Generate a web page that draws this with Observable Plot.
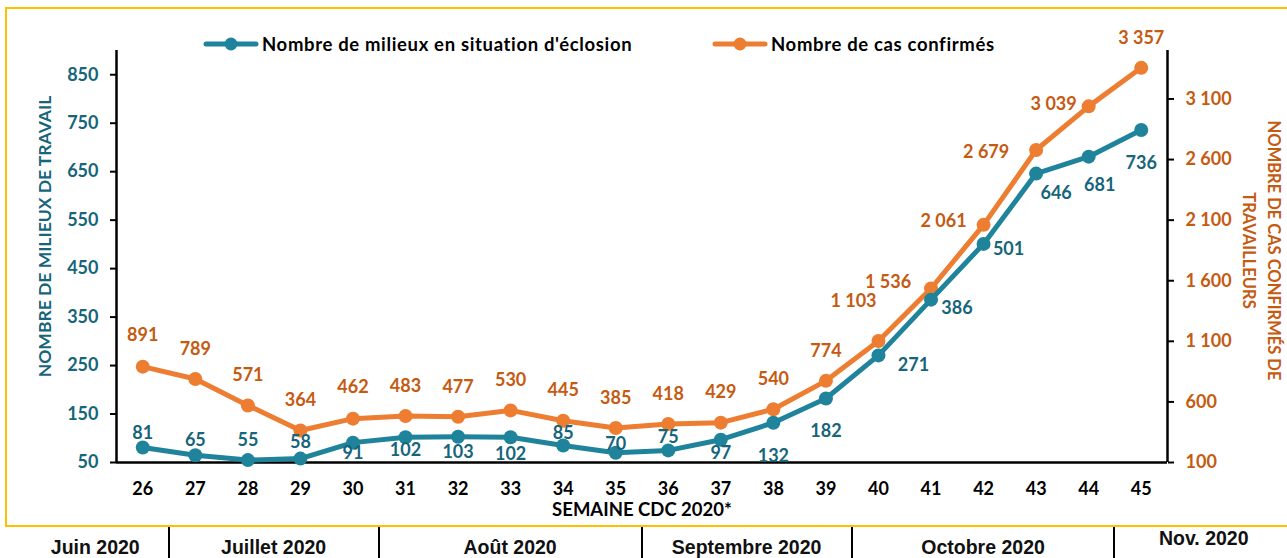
<!DOCTYPE html>
<html><head><meta charset="utf-8">
<script src="https://cdn.jsdelivr.net/npm/d3@7"></script>
<script src="https://cdn.jsdelivr.net/npm/@observablehq/plot@0.6"></script>
<style>
html,body{margin:0;padding:0;background:#fff;}
body{width:1287px;height:558px;overflow:hidden;position:relative;font-family:Lato,sans-serif;}
#chart{position:absolute;left:0;top:0;}
#frame{position:absolute;left:5px;top:7px;width:1300px;height:520px;border:2px solid #FFC000;box-sizing:border-box;pointer-events:none;}
#legend{position:absolute;top:33px;left:0;height:22px;width:1287px;}
.lg{position:absolute;top:0;display:flex;align-items:center;height:22px;font:bold 18.5px Lato,sans-serif;letter-spacing:0.65px;color:#000;white-space:nowrap;}
.lg svg{margin-right:3px;}
#months{position:absolute;top:527px;left:0;width:1287px;height:31px;}
.mc{position:absolute;top:0;height:31px;box-sizing:border-box;text-align:center;font:bold 19.5px "Liberation Sans",Arial,sans-serif;color:#111;line-height:40px;}
.mc.sep{border-left:2px solid #000;}
.mc.last{line-height:22px;}
</style>
</head><body>
<div id="chart"></div>
<div id="frame"></div>
<div id="legend"></div>
<div id="months"></div>
<script>
// ---- data ----
const weeks = [26,27,28,29,30,31,32,33,34,35,36,37,38,39,40,41,42,43,44,45];
const eclosions = [81,65,55,58,91,102,103,102,85,70,75,97,132,182,271,386,501,646,681,736];
const casConfirmes = [891,789,571,364,462,483,477,530,445,385,418,429,540,774,1103,1536,2061,2679,3039,3357];
const leftTicks = [50,150,250,350,450,550,650,750,850];
const rightTicks = [100,600,1100,1600,2100,2600,3100];
const months = ["Juin 2020","Juillet 2020","Août 2020","Septembre 2020","Octobre 2020","Nov. 2020"];
const monthFirstWeek = [26,27,31,36,40,45];
const legendLabels = ["Nombre de milieux en situation d'éclosion","Nombre de cas confirmés"];
const xTitle = "SEMAINE CDC 2020*";
const leftTitle = "NOMBRE DE MILIEUX DE TRAVAIL";
const rightTitle = ["NOMBRE DE CAS CONFIRMÉS DE","TRAVAILLEURS"];

// ---- label placement (pixel offsets, style only) ----
const tealOffsets = [[0,-14],[0,-15],[0,-20],[0,-16],[0,11],[0,13],[0,15],[0,17],[0,-12],[0,-9],[0,-13],[0,14],[0,33],[0,33],[35,10],[26,9],[25,5],[20,20],[11,29],[0,33]];
const orangeOffsets = [[0,-31],[0,-30],[0,-30],[0,-30],[0,-31],[0,-30],[0,-30],[0,-30],[0,-30],[0,-30],[0,-30],[0,-30],[0,-30],[0,-30],[-25,-40],[-43,-6],[-40,-4],[-50,2],[-35,-2],[0,-30]];

const teal = "#1F849B", tealText = "#17657A";
const orange = "#ED7D31", orangeText = "#C55A11";

const leftDomain = [50, 900], rightDomain = [100, 3500];
const toLeft = v => leftDomain[0] + (v - rightDomain[0]) * (leftDomain[1] - leftDomain[0]) / (rightDomain[1] - rightDomain[0]);
const fromLeft = v => rightDomain[0] + (v - leftDomain[0]) * (rightDomain[1] - rightDomain[0]) / (leftDomain[1] - leftDomain[0]);
const fmt = d3.formatLocale({thousands:"\u00a0", grouping:[3], decimal:",", currency:["",""]}).format(",");
const xDomain = [weeks[0] - 0.5, weeks[weeks.length-1] + 0.5];

const data = weeks.map((w,i) => ({week:w, ecl:eclosions[i], cas:casConfirmes[i], casL:toLeft(casConfirmes[i])}));

const labelMarks = [];
data.forEach((d,i) => {
  labelMarks.push(Plot.text([d], {x:"week", y:"casL", text: d => fmt(d.cas), dx:orangeOffsets[i][0], dy:orangeOffsets[i][1], fill:orangeText, fontSize:18, fontWeight:"bold"}));
  labelMarks.push(Plot.text([d], {x:"week", y:"ecl", text: d => fmt(d.ecl), dx:tealOffsets[i][0], dy:tealOffsets[i][1], fill:tealText, fontSize:18, fontWeight:"bold"}));
});

const plot = Plot.plot({
  width: 1287, height: 525,
  marginLeft: 116, marginRight: 120, marginTop: 50, marginBottom: 63,
  style: {fontFamily:"Lato, sans-serif", fontWeight:"bold", fontSize:"18px", background:"transparent", overflow:"visible"},
  x: {domain: xDomain, axis: null},
  y: {domain: leftDomain, axis: null},
  marks: [
    Plot.axisY({anchor:"left", ticks:leftTicks, tickSize:6, tickPadding:12, fontSize:18, fill:tealText, stroke:"#000", strokeWidth:2, label:null}),
    Plot.axisY({anchor:"right", ticks:rightTicks.map(toLeft), tickFormat: d => fmt(Math.round(fromLeft(d))), tickSize:6, tickPadding:12, fontSize:18, fill:orangeText, stroke:"#000", strokeWidth:2, label:null}),
    Plot.axisX({anchor:"bottom", ticks:weeks, tickFormat: d => String(d), tickSize:0, tickPadding:20, fontSize:18, fill:"#000", label:null}),
    Plot.text([leftTitle], {frameAnchor:"left", text: d => d, rotate:-90, textAnchor:"middle", lineAnchor:"middle", dx:-71, dy:-20, fontSize:17.5, fontWeight:"bold", fill:tealText}),
    Plot.text([rightTitle.join("\n")], {frameAnchor:"right", text: d => d, rotate:90, textAnchor:"middle", lineAnchor:"middle", dx:96, dy:-6, fontSize:16.5, fontWeight:"bold", fill:orangeText, lineHeight:1.55}),
    Plot.text([xTitle], {frameAnchor:"bottom", text: d => d, dy:53, fontSize:18.5, fontWeight:"bold", fill:"#000"}),
    Plot.ruleY([leftDomain[0]], {stroke:"#000", strokeWidth:2.5}),
    Plot.ruleX(xDomain, {y1:leftDomain[0], y2:leftDomain[1], stroke:"#000", strokeWidth:2.5}),
    Plot.line(data, {x:"week", y:"casL", stroke:orange, strokeWidth:5}),
    Plot.dot(data, {x:"week", y:"casL", r:7, fill:orange}),
    Plot.line(data, {x:"week", y:"ecl", stroke:teal, strokeWidth:5}),
    Plot.dot(data, {x:"week", y:"ecl", r:7, fill:teal}),
    ...labelMarks
  ]
});
document.getElementById("chart").appendChild(plot);

// ---- legend ----
const legend = document.getElementById("legend");
const legendColors = [teal, orange];
const legendLeft = [203, 712];
legendLabels.forEach((lab,i) => {
  const el = document.createElement("div");
  el.className = "lg";
  el.style.left = legendLeft[i] + "px";
  el.innerHTML = `<svg width="56" height="16"><line x1="3" y1="8" x2="53" y2="8" stroke="${legendColors[i]}" stroke-width="5" stroke-linecap="round"/><circle cx="28" cy="8" r="6.5" fill="${legendColors[i]}"/></svg><span>${lab}</span>`;
  legend.appendChild(el);
});

// ---- month row ----
const xs = plot.scale("x");
const mrow = document.getElementById("months");
months.forEach((m,i) => {
  const left = i === 0 ? 22 : xs.apply(monthFirstWeek[i] - 0.5);
  const right = i === months.length - 1 ? 1293 : xs.apply(monthFirstWeek[i+1] - 0.5);
  const el = document.createElement("div");
  el.className = "mc" + (i > 0 ? " sep" : "") + (i === months.length - 1 ? " last" : "");
  el.style.left = (left - (i>0?1:0)) + "px";
  el.style.width = (right - left) + "px";
  el.textContent = m;
  mrow.appendChild(el);
});
</script>
</body></html>
